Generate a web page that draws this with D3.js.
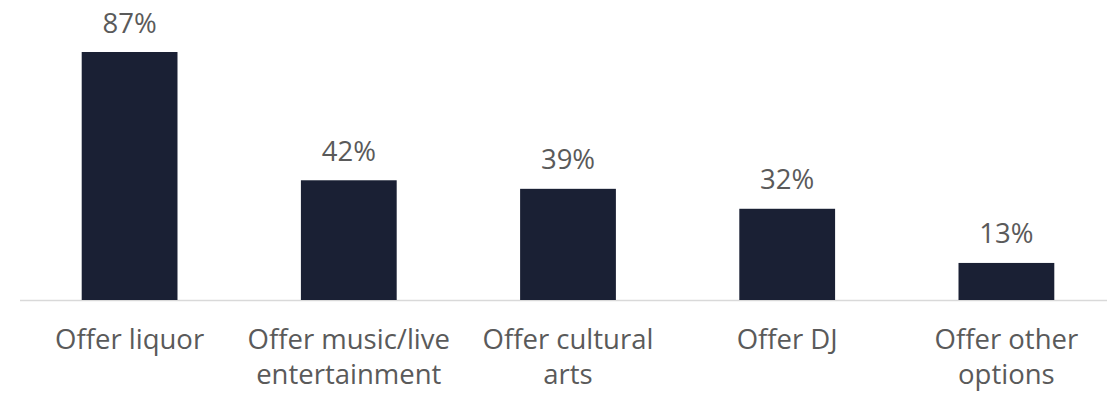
<!DOCTYPE html>
<html>
<head>
<meta charset="utf-8">
<script src="https://cdn.jsdelivr.net/npm/d3@7"></script>
<style>
  body { margin: 0; background: #fff; }
  svg { display: block; font-family: 'Open Sans', sans-serif; }
</style>
</head>
<body>
<div id="chart"></div>
<script>
const categories = ['Offer liquor', 'Offer music/live entertainment', 'Offer cultural arts', 'Offer DJ', 'Offer other options'];
const values = [87, 42, 39, 32, 13];

const width = 1107;
const height = 395;
const baseline = 300;
const fontSize = 27.5;

const svg = d3.select('#chart').append('svg')
  .attr('width', width)
  .attr('height', height);

const x = d3.scaleBand()
  .domain(categories)
  .range([20, 1116])
  .paddingInner(0.563)
  .paddingOuter(0.2815);

const y = d3.scaleLinear()
  .domain([0, 87])
  .range([baseline, 52]);

// baseline
svg.append('line')
  .attr('x1', x.range()[0])
  .attr('x2', width)
  .attr('y1', baseline + 0.5)
  .attr('y2', baseline + 0.5)
  .attr('stroke', '#d9d9d9')
  .attr('stroke-width', 1.5);

svg.append('g')
  .selectAll('rect')
  .data(values)
  .join('rect')
    .attr('x', (d, i) => x(categories[i]))
    .attr('y', d => y(d))
    .attr('width', x.bandwidth())
    .attr('height', d => baseline - y(d))
    .attr('fill', '#1a2034');

svg.append('g')
  .selectAll('text')
  .data(values)
  .join('text')
    .attr('x', (d, i) => x(categories[i]) + x.bandwidth() / 2)
    .attr('y', d => y(d) - 19.5)
    .attr('text-anchor', 'middle')
    .attr('font-size', fontSize)
    .attr('fill', '#5a5a5a')
    .text(d => `${d}%`);

// category labels, wrapped to the band step
const measure = document.createElement('canvas').getContext('2d');
measure.font = `${fontSize}px 'Open Sans'`;
function wrap(label, maxWidth) {
  const words = label.split(' ');
  const lines = [];
  let line = words[0];
  for (const w of words.slice(1)) {
    const test = `${line} ${w}`;
    if (measure.measureText(test).width > maxWidth) {
      lines.push(line);
      line = w;
    } else {
      line = test;
    }
  }
  lines.push(line);
  return lines;
}

const labels = svg.append('g')
  .selectAll('text')
  .data(categories)
  .join('text')
    .attr('x', d => x(d) + x.bandwidth() / 2)
    .attr('y', 349)
    .attr('text-anchor', 'middle')
    .attr('font-size', fontSize)
    .attr('fill', '#5a5a5a');

labels.selectAll('tspan')
  .data(d => wrap(d, x.step() * 0.97).map(t => ({ t, cx: x(d) + x.bandwidth() / 2 })))
  .join('tspan')
    .attr('x', d => d.cx)
    .attr('dy', (d, i) => i === 0 ? 0 : 35)
    .text(d => d.t);
</script>
</body>
</html>
